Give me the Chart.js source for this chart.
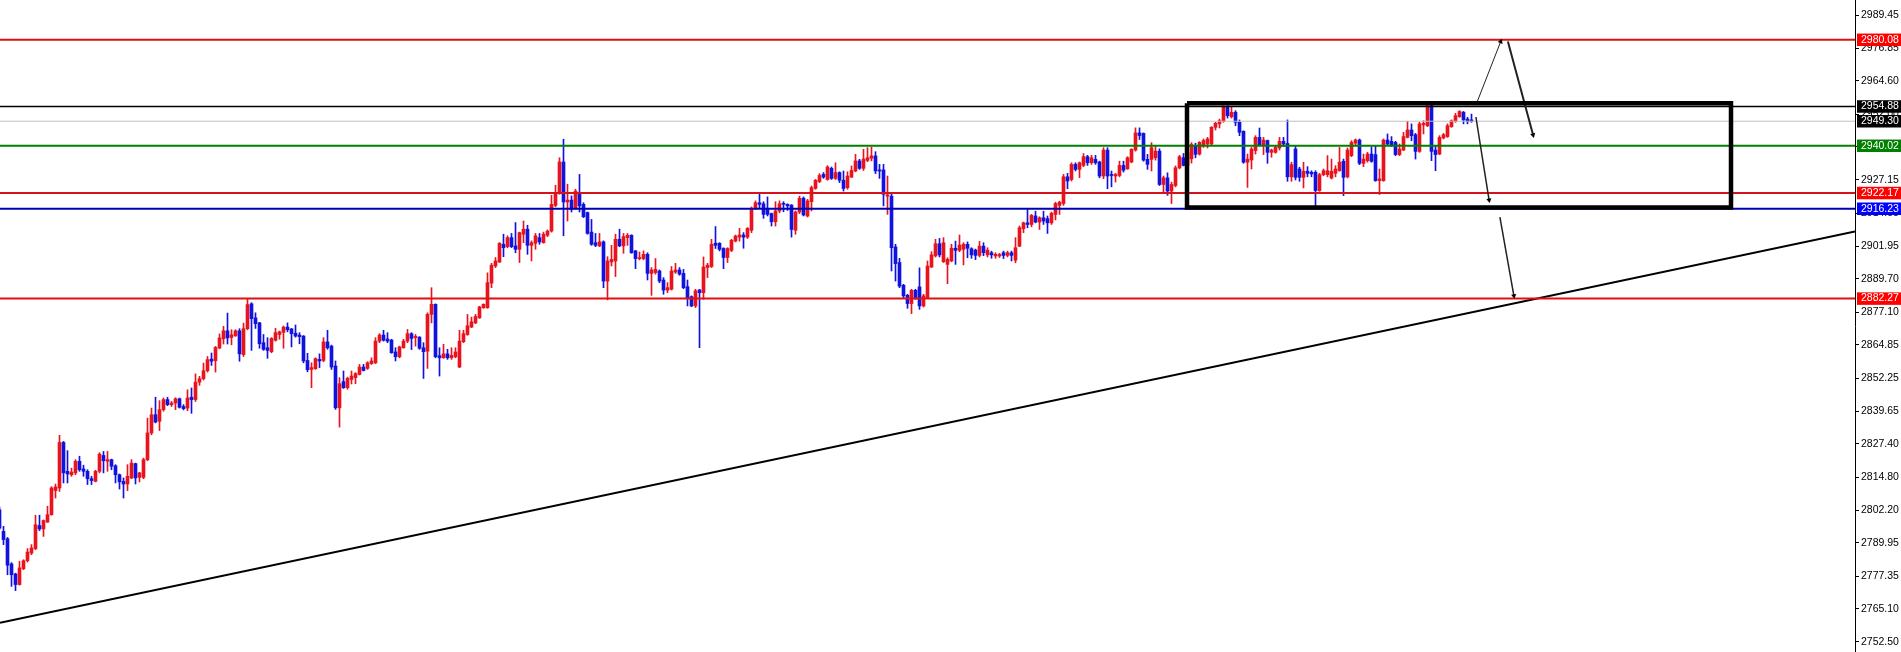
<!DOCTYPE html>
<html>
<head>
<meta charset="utf-8">
<title>XAUUSD</title>
<script src="https://cdn.jsdelivr.net/npm/chart.js@4.4.1/dist/chart.umd.min.js"></script>
<style>
  html, body { margin: 0; padding: 0; background: #fff; }
  #wrap { width: 1901px; height: 652px; }
</style>
</head>
<body>
<div id="wrap"><canvas id="chart"></canvas></div>
<script>
// candles (index = bar number, left to right)
const opens = [
  2802.4, 2794.3, 2791.5, 2782.0, 2778.2, 2774.2, 2780.2, 2783.2, 2786.1, 2787.8,
  2796.5, 2795.2, 2797.8, 2800.6, 2809.7, 2810.7, 2827.9, 2817.0, 2815.7, 2816.4,
  2820.8, 2817.9, 2817.0, 2814.2, 2813.2, 2817.0, 2823.0, 2820.8, 2821.4, 2819.1,
  2815.7, 2813.2, 2812.2, 2814.5, 2819.9, 2814.7, 2814.7, 2821.4, 2831.5, 2838.4,
  2835.9, 2840.3, 2844.1, 2842.2, 2842.8, 2844.4, 2841.5, 2840.9, 2845.0, 2844.1,
  2850.7, 2852.0, 2855.0, 2859.4, 2858.8, 2863.6, 2867.1, 2870.1, 2867.6, 2868.2,
  2870.1, 2861.1, 2870.9, 2880.3, 2875.0, 2873.1, 2865.6, 2863.7, 2862.2, 2866.5,
  2868.7, 2869.5, 2871.5, 2870.8, 2869.2, 2868.5, 2868.1, 2858.9, 2855.5, 2855.8,
  2859.3, 2858.9, 2865.9, 2864.3, 2856.8, 2841.0, 2850.9, 2848.6, 2851.7, 2852.4,
  2853.6, 2856.4, 2855.9, 2857.7, 2858.0, 2866.2, 2868.5, 2867.0, 2866.6, 2862.1,
  2860.3, 2863.7, 2866.2, 2869.0, 2867.5, 2867.7, 2863.7, 2862.4, 2876.3, 2880.1,
  2860.7, 2859.9, 2861.4, 2859.9, 2860.3, 2856.4, 2866.0, 2868.7, 2871.5, 2873.1,
  2875.0, 2878.8, 2878.8, 2888.1, 2894.6, 2896.1, 2902.8, 2901.9, 2905.3, 2902.2,
  2900.9, 2906.6, 2908.5, 2902.4, 2903.2, 2905.3, 2903.4, 2906.2, 2907.8, 2917.5,
  2922.3, 2933.9, 2918.8, 2919.5, 2916.6, 2922.3, 2917.9, 2914.8, 2907.4, 2903.4,
  2902.2, 2903.7, 2888.9, 2896.1, 2896.5, 2904.7, 2902.2, 2905.3, 2906.2, 2900.3,
  2897.4, 2897.4, 2899.0, 2891.8, 2892.1, 2892.7, 2889.3, 2885.5, 2885.8, 2892.3,
  2893.1, 2891.8, 2886.8, 2883.0, 2879.5, 2885.5, 2884.5, 2894.0, 2894.4, 2903.2,
  2903.2, 2901.2, 2897.8, 2900.5, 2904.0, 2905.5, 2906.3, 2905.5, 2908.1, 2916.4,
  2918.5, 2918.1, 2916.4, 2914.4, 2911.3, 2915.4, 2918.1, 2917.9, 2917.6, 2908.1,
  2915.0, 2920.2, 2913.5, 2918.9, 2923.9, 2926.5, 2929.2, 2927.3, 2931.5, 2927.7,
  2929.9, 2927.0, 2924.2, 2928.2, 2930.5, 2934.3, 2931.5, 2934.5, 2935.3, 2936.2,
  2930.9, 2930.9, 2921.0, 2921.0, 2901.8, 2895.9, 2887.3, 2883.5, 2880.4, 2885.4,
  2886.7, 2879.5, 2882.6, 2894.2, 2898.4, 2903.0, 2896.2, 2895.2, 2896.5, 2901.3,
  2900.5, 2900.9, 2902.8, 2901.1, 2900.6, 2898.6, 2902.1, 2898.8, 2899.6, 2898.4,
  2898.4, 2899.6, 2898.6, 2899.6, 2896.8, 2902.1, 2908.7, 2910.9, 2910.3, 2913.5,
  2911.2, 2912.8, 2912.5, 2910.9, 2914.1, 2917.5, 2918.2, 2928.3, 2927.3, 2933.0,
  2931.1, 2932.6, 2935.9, 2933.6, 2934.9, 2933.9, 2928.6, 2938.4, 2929.2, 2928.6,
  2928.8, 2932.6, 2931.3, 2933.9, 2938.4, 2944.9, 2944.7, 2934.9, 2934.9, 2935.5,
  2938.0, 2925.4, 2927.9, 2922.9, 2925.0, 2931.7, 2935.5, 2932.6, 2935.1, 2940.2,
  2936.9, 2940.1, 2940.7, 2940.7, 2947.0, 2948.3, 2949.3, 2954.55, 2951.0, 2952.7,
  2948.9, 2945.5, 2933.8, 2934.65, 2938.2, 2943.2, 2940.45, 2942.0, 2937.55, 2937.55,
  2939.2, 2941.7, 2940.9, 2928.3, 2938.8, 2931.25, 2928.1, 2930.4, 2930.0, 2930.0,
  2923.1, 2929.1, 2929.1, 2927.85, 2929.6, 2930.6, 2934.15, 2928.3, 2936.3, 2941.0,
  2942.2, 2933.4, 2934.4, 2936.9, 2936.7, 2926.85, 2926.85, 2942.2, 2941.7, 2941.3,
  2936.7, 2938.4, 2943.2, 2946.0, 2944.2, 2937.9, 2947.9, 2947.6, 2955.2, 2938.4,
  2936.9, 2943.0, 2943.5, 2947.25, 2949.3, 2951.0, 2952.7, 2950.1, 2949.8
];
const highs = [
  2803.5, 2796.2, 2792.0, 2782.5, 2778.5, 2783.0, 2783.6, 2787.8, 2789.3, 2800.4,
  2800.4, 2798.6, 2803.8, 2811.2, 2812.2, 2830.6, 2828.3, 2824.8, 2818.2, 2821.4,
  2822.7, 2819.3, 2817.6, 2815.1, 2817.4, 2824.0, 2824.5, 2824.5, 2821.6, 2819.5,
  2816.0, 2814.5, 2819.5, 2821.4, 2820.1, 2816.6, 2822.0, 2837.1, 2840.9, 2845.0,
  2843.7, 2844.7, 2845.0, 2843.4, 2844.8, 2844.7, 2842.2, 2847.8, 2848.5, 2853.8,
  2852.9, 2857.9, 2860.4, 2861.7, 2864.2, 2868.9, 2871.8, 2876.8, 2870.5, 2870.5,
  2870.9, 2873.0, 2882.2, 2880.7, 2876.9, 2873.3, 2868.7, 2867.5, 2867.5, 2871.0,
  2870.0, 2871.9, 2873.1, 2871.0, 2872.3, 2869.4, 2868.3, 2861.6, 2858.0, 2859.9,
  2861.4, 2867.5, 2870.3, 2864.7, 2858.7, 2852.4, 2854.9, 2852.6, 2854.9, 2854.3,
  2857.4, 2857.4, 2858.4, 2859.9, 2867.5, 2869.0, 2870.3, 2869.4, 2866.9, 2863.7,
  2864.3, 2866.9, 2870.6, 2869.4, 2868.7, 2867.9, 2865.6, 2876.9, 2886.4, 2880.3,
  2863.7, 2865.0, 2863.1, 2863.7, 2863.7, 2870.3, 2870.3, 2876.3, 2875.3, 2876.3,
  2879.4, 2880.3, 2892.0, 2895.6, 2897.8, 2903.4, 2906.6, 2906.0, 2906.9, 2911.0,
  2907.4, 2911.6, 2910.0, 2904.1, 2906.9, 2906.9, 2907.4, 2908.2, 2921.3, 2925.1,
  2935.5, 2942.5, 2925.5, 2921.1, 2923.6, 2929.2, 2918.5, 2915.0, 2912.2, 2906.9,
  2906.9, 2904.1, 2898.1, 2902.4, 2906.6, 2908.5, 2906.9, 2906.9, 2906.4, 2900.5,
  2899.9, 2900.3, 2899.6, 2894.0, 2897.4, 2893.1, 2890.2, 2888.3, 2894.4, 2895.6,
  2894.0, 2893.3, 2889.3, 2883.3, 2885.8, 2885.8, 2898.0, 2895.6, 2904.7, 2909.5,
  2903.4, 2901.5, 2901.5, 2904.7, 2906.3, 2908.8, 2907.2, 2909.1, 2916.9, 2919.2,
  2921.9, 2918.9, 2920.7, 2914.6, 2918.9, 2919.2, 2918.9, 2918.1, 2917.8, 2915.4,
  2921.0, 2920.7, 2919.8, 2924.8, 2927.3, 2929.5, 2929.9, 2932.5, 2932.0, 2933.6,
  2930.2, 2930.5, 2930.2, 2932.4, 2936.8, 2934.9, 2938.7, 2939.3, 2939.6, 2937.8,
  2933.0, 2933.0, 2928.6, 2921.9, 2902.8, 2897.5, 2887.7, 2883.9, 2885.8, 2885.8,
  2893.9, 2883.9, 2896.5, 2900.0, 2904.7, 2905.0, 2905.3, 2897.7, 2902.8, 2904.0,
  2906.3, 2903.4, 2903.7, 2901.5, 2901.0, 2903.9, 2903.4, 2901.5, 2900.2, 2899.6,
  2899.4, 2900.2, 2900.2, 2900.2, 2905.3, 2909.7, 2911.2, 2915.9, 2914.1, 2915.3,
  2913.2, 2915.3, 2913.5, 2915.0, 2918.7, 2919.1, 2929.2, 2929.6, 2933.6, 2933.6,
  2933.9, 2937.1, 2936.4, 2936.4, 2936.4, 2934.2, 2939.3, 2939.3, 2930.5, 2929.6,
  2934.2, 2934.2, 2935.9, 2938.9, 2946.8, 2946.8, 2944.9, 2936.8, 2941.2, 2939.9,
  2938.9, 2928.6, 2929.8, 2926.3, 2932.4, 2936.4, 2937.1, 2938.5, 2941.2, 2941.0,
  2941.6, 2942.6, 2943.2, 2947.25, 2948.9, 2950.1, 2955.2, 2955.2, 2954.55, 2953.3,
  2949.8, 2945.7, 2936.9, 2939.4, 2943.85, 2946.75, 2943.2, 2942.2, 2938.8, 2940.1,
  2943.2, 2943.2, 2949.8, 2933.8, 2940.1, 2931.9, 2933.8, 2932.15, 2930.6, 2930.6,
  2929.6, 2931.25, 2936.3, 2935.0, 2932.5, 2939.4, 2935.0, 2939.2, 2941.95, 2942.6,
  2942.6, 2936.9, 2937.55, 2939.7, 2940.1, 2931.25, 2942.6, 2944.5, 2943.5, 2941.7,
  2940.7, 2945.1, 2949.3, 2948.3, 2944.7, 2948.9, 2949.5, 2956.0, 2956.0, 2940.1,
  2943.85, 2944.7, 2948.3, 2949.8, 2952.3, 2953.3, 2953.0, 2950.8, 2952.0
];
const lows = [
  2795.0, 2789.3, 2777.9, 2773.5, 2771.9, 2774.0, 2779.8, 2782.7, 2785.5, 2787.4,
  2794.6, 2792.4, 2797.7, 2800.4, 2806.9, 2809.4, 2812.6, 2812.6, 2815.1, 2815.7,
  2817.0, 2815.1, 2812.0, 2812.0, 2813.0, 2816.4, 2816.4, 2817.0, 2817.6, 2812.6,
  2810.3, 2806.9, 2809.7, 2814.2, 2812.2, 2813.0, 2814.2, 2821.0, 2830.8, 2835.3,
  2832.4, 2839.7, 2841.8, 2841.5, 2840.3, 2840.9, 2840.2, 2839.9, 2838.9, 2843.4,
  2849.5, 2851.5, 2854.5, 2857.0, 2854.5, 2863.3, 2865.1, 2865.1, 2864.8, 2868.0,
  2858.6, 2860.4, 2870.5, 2862.7, 2871.0, 2863.5, 2862.7, 2859.7, 2861.8, 2866.2,
  2866.9, 2863.5, 2869.7, 2864.0, 2867.7, 2865.2, 2858.0, 2854.6, 2848.6, 2855.5,
  2856.2, 2858.4, 2863.1, 2855.5, 2840.4, 2833.7, 2848.3, 2848.0, 2850.0, 2850.1,
  2853.4, 2854.9, 2855.5, 2857.4, 2857.7, 2865.6, 2866.2, 2865.6, 2861.6, 2858.7,
  2859.9, 2863.5, 2865.6, 2863.0, 2864.3, 2863.1, 2852.1, 2855.9, 2873.1, 2859.9,
  2853.0, 2859.7, 2859.3, 2859.3, 2859.9, 2856.2, 2865.6, 2868.4, 2871.3, 2872.8,
  2874.8, 2878.6, 2878.6, 2886.4, 2894.0, 2895.9, 2898.1, 2901.5, 2901.5, 2899.6,
  2895.9, 2903.4, 2899.0, 2896.5, 2900.9, 2902.8, 2903.2, 2905.7, 2907.4, 2917.0,
  2921.7, 2906.0, 2911.6, 2915.0, 2916.0, 2915.0, 2912.9, 2906.6, 2902.4, 2901.9,
  2901.9, 2886.4, 2881.8, 2894.6, 2890.6, 2901.9, 2899.4, 2902.4, 2899.4, 2893.6,
  2896.9, 2896.9, 2889.3, 2883.5, 2891.5, 2888.3, 2883.9, 2884.5, 2885.5, 2891.8,
  2891.1, 2886.0, 2879.5, 2879.2, 2878.9, 2863.7, 2882.0, 2890.2, 2894.0, 2901.2,
  2900.3, 2893.6, 2895.9, 2900.0, 2903.7, 2904.0, 2901.3, 2905.0, 2907.2, 2916.0,
  2916.6, 2912.6, 2913.5, 2909.7, 2909.7, 2914.7, 2915.1, 2915.6, 2905.5, 2906.6,
  2914.4, 2913.5, 2913.1, 2915.4, 2923.6, 2926.1, 2927.7, 2927.0, 2927.3, 2927.3,
  2926.1, 2922.9, 2923.6, 2928.0, 2930.2, 2931.1, 2930.7, 2934.0, 2934.3, 2929.5,
  2927.7, 2917.3, 2914.1, 2892.7, 2888.9, 2886.4, 2882.6, 2878.6, 2876.6, 2882.0,
  2878.2, 2879.1, 2882.4, 2894.0, 2898.0, 2898.0, 2895.9, 2887.9, 2896.2, 2895.2,
  2900.0, 2895.0, 2897.7, 2897.5, 2897.0, 2898.0, 2898.5, 2898.0, 2897.5, 2897.5,
  2897.8, 2897.4, 2898.0, 2896.5, 2895.8, 2901.9, 2907.2, 2909.05, 2909.4, 2910.9,
  2908.4, 2910.3, 2906.9, 2910.3, 2912.0, 2914.1, 2917.5, 2923.8, 2926.7, 2930.5,
  2928.0, 2932.1, 2932.6, 2933.0, 2933.0, 2927.9, 2927.6, 2923.8, 2924.5, 2926.3,
  2928.3, 2930.1, 2931.1, 2933.6, 2938.0, 2942.4, 2934.2, 2931.1, 2930.5, 2934.6,
  2925.0, 2922.0, 2921.3, 2918.2, 2924.5, 2931.3, 2932.4, 2932.0, 2933.5, 2935.5,
  2936.5, 2939.4, 2939.2, 2940.1, 2946.0, 2946.75, 2948.9, 2950.5, 2950.5, 2947.6,
  2943.85, 2933.4, 2924.3, 2931.25, 2936.9, 2940.1, 2936.7, 2933.4, 2935.7, 2937.2,
  2938.4, 2939.7, 2926.6, 2926.6, 2927.1, 2926.6, 2924.1, 2928.3, 2928.3, 2916.8,
  2922.8, 2928.7, 2928.3, 2927.5, 2928.3, 2930.4, 2921.2, 2927.85, 2935.9, 2940.45,
  2932.9, 2932.15, 2933.8, 2933.8, 2926.6, 2921.6, 2926.6, 2940.1, 2939.7, 2936.3,
  2936.3, 2938.2, 2943.0, 2941.95, 2935.0, 2937.55, 2944.5, 2947.25, 2934.4, 2930.6,
  2936.7, 2942.6, 2943.2, 2947.0, 2948.9, 2950.8, 2948.3, 2948.3, 2948.9
];
const closes = [
  2795.5, 2791.2, 2781.5, 2777.9, 2774.2, 2780.5, 2783.2, 2786.5, 2788.0, 2796.8,
  2795.2, 2798.4, 2800.6, 2810.7, 2811.1, 2827.9, 2816.4, 2816.0, 2816.7, 2820.8,
  2817.6, 2817.0, 2814.2, 2813.5, 2817.0, 2823.5, 2821.0, 2821.4, 2818.9, 2815.7,
  2813.0, 2812.2, 2815.1, 2820.1, 2814.5, 2816.4, 2821.4, 2831.5, 2838.4, 2835.6,
  2840.3, 2844.1, 2842.2, 2842.8, 2844.4, 2841.2, 2840.7, 2844.7, 2844.1, 2850.7,
  2852.0, 2855.0, 2859.2, 2858.6, 2863.8, 2867.4, 2870.1, 2867.4, 2868.6, 2870.1,
  2861.4, 2870.9, 2880.0, 2874.7, 2872.8, 2865.2, 2863.1, 2862.7, 2867.2, 2869.4,
  2869.7, 2871.5, 2870.5, 2869.0, 2868.1, 2867.9, 2858.7, 2855.4, 2856.2, 2859.6,
  2858.7, 2865.9, 2863.7, 2856.4, 2841.0, 2850.1, 2848.6, 2852.1, 2853.0, 2853.9,
  2856.4, 2855.1, 2858.0, 2858.7, 2866.2, 2868.5, 2866.5, 2866.2, 2861.8, 2860.3,
  2864.0, 2866.2, 2869.0, 2867.2, 2868.0, 2863.5, 2862.2, 2876.3, 2880.1, 2860.3,
  2859.9, 2861.4, 2859.9, 2860.8, 2862.1, 2866.2, 2869.0, 2872.0, 2873.5, 2875.5,
  2879.1, 2880.1, 2888.3, 2894.9, 2896.5, 2903.2, 2901.5, 2905.3, 2901.9, 2900.9,
  2907.2, 2908.5, 2902.4, 2903.4, 2906.0, 2903.7, 2906.6, 2907.8, 2917.9, 2922.3,
  2933.9, 2918.8, 2919.5, 2916.0, 2922.9, 2917.3, 2913.2, 2906.9, 2902.8, 2902.4,
  2903.7, 2888.9, 2896.5, 2897.1, 2904.7, 2902.2, 2905.7, 2906.2, 2899.6, 2897.4,
  2897.4, 2899.0, 2891.8, 2893.1, 2893.3, 2888.9, 2885.5, 2886.4, 2892.7, 2893.1,
  2891.5, 2886.4, 2882.6, 2879.5, 2885.2, 2884.5, 2894.2, 2894.9, 2902.8, 2902.4,
  2900.9, 2897.8, 2901.2, 2904.3, 2905.9, 2906.3, 2905.5, 2908.8, 2916.4, 2918.5,
  2917.9, 2914.1, 2914.1, 2911.3, 2915.4, 2918.1, 2917.9, 2917.3, 2908.4, 2915.0,
  2920.2, 2913.9, 2919.2, 2924.2, 2927.0, 2928.8, 2928.2, 2932.0, 2927.7, 2929.9,
  2927.0, 2923.9, 2928.6, 2930.7, 2934.3, 2931.5, 2935.0, 2935.5, 2936.2, 2930.5,
  2930.5, 2921.7, 2921.5, 2901.5, 2895.5, 2887.0, 2883.3, 2880.4, 2885.4, 2882.6,
  2879.5, 2883.3, 2894.6, 2898.8, 2903.0, 2898.8, 2903.4, 2897.1, 2901.3, 2900.5,
  2902.5, 2902.8, 2901.3, 2898.8, 2898.6, 2902.1, 2899.6, 2900.6, 2898.8, 2899.0,
  2898.9, 2898.6, 2899.6, 2898.6, 2901.5, 2909.05, 2910.9, 2910.3, 2913.7, 2911.2,
  2912.8, 2911.6, 2910.9, 2914.5, 2918.2, 2918.7, 2928.3, 2926.7, 2933.0, 2931.1,
  2933.6, 2935.9, 2933.6, 2935.5, 2933.6, 2928.6, 2938.4, 2928.6, 2928.8, 2929.2,
  2932.6, 2930.8, 2935.5, 2938.7, 2944.9, 2943.9, 2934.6, 2933.0, 2939.3, 2938.0,
  2925.4, 2927.9, 2922.9, 2925.4, 2931.7, 2935.9, 2932.6, 2937.5, 2940.5, 2936.8,
  2941.3, 2942.0, 2942.6, 2947.0, 2948.5, 2949.5, 2954.55, 2951.4, 2952.7, 2948.9,
  2945.1, 2933.8, 2935.0, 2938.8, 2943.2, 2940.45, 2942.2, 2937.55, 2938.4, 2939.4,
  2941.7, 2940.7, 2928.3, 2932.9, 2928.1, 2928.1, 2930.4, 2929.6, 2929.4, 2923.1,
  2929.1, 2930.6, 2930.6, 2930.4, 2931.25, 2933.8, 2928.1, 2938.4, 2941.3, 2942.2,
  2933.4, 2935.0, 2936.9, 2934.15, 2926.85, 2927.5, 2942.2, 2940.7, 2940.45, 2936.7,
  2938.8, 2943.5, 2946.0, 2943.85, 2937.9, 2948.3, 2948.5, 2955.2, 2937.9, 2936.7,
  2943.2, 2944.2, 2947.6, 2949.5, 2951.4, 2953.0, 2949.8, 2949.25, 2949.3
];

// price axis labels
const yTickValues = [2989.45, 2976.85, 2964.60, 2952.00, 2939.75, 2927.15, 2914.55, 2901.95,
  2889.70, 2877.10, 2864.85, 2852.25, 2839.65, 2827.40, 2814.80, 2802.20, 2789.95, 2777.35,
  2765.10, 2752.50];

// horizontal levels (the two black ones: box top line and current bid)
const levelValues = [2980.08, 2954.88, 2949.30, 2940.02, 2922.17, 2916.23, 2882.27];

// drawn objects, in bar index / price units
const trendX = [0.125, 463.875];
const trendY = [2759.8, 2907.6];
const boxX = [296.875, 432.875, 432.875, 296.875, 296.875];
const boxY = [2956.1, 2956.1, 2916.7, 2916.7, 2956.1];
const arrowX = [[369.1, 375.3], [377.1, 383.4], [369.1, 372.4], [375.1, 378.6]];
const arrowY = [[2955.4, 2979.4], [2979.4, 2944.1], [2950.9, 2919.5], [2913.1, 2883.3]];

// styles
const RED = "#e8131c";
const BLUE = "#1212e0";
const levelLineColors = ["#e01010", "#000000", "#c0c0c0", "#008000", "#d4141c", "#0000b0", "#e01010"];
const levelLineWidths = [2, 1.5, 1, 2, 2, 2, 2];
const levelBoxColors = ["#ff0000", "#000000", "#000000", "#008000", "#ff0000", "#0000ff", "#ff0000"];
const arrowWidths = [1, 2, 1.5, 1.5];

const X_MIN = 0.125;
const X_MAX = 463.875;

const idx = opens.map((_, i) => i);
const candleColors = idx.map((i) => (closes[i] >= opens[i] ? RED : BLUE));

function arrowRotation(ctx) {
  const sx = ctx.chart.scales.x;
  const sy = ctx.chart.scales.y;
  const d = ctx.dataset.data;
  const dx = sx.getPixelForValue(d[1].x) - sx.getPixelForValue(d[0].x);
  const dy = sy.getPixelForValue(d[1].y) - sy.getPixelForValue(d[0].y);
  return (Math.atan2(dx, -dy) * 180) / Math.PI;
}

function lineSet(data, color, width, order) {
  return {
    type: "line",
    data: data,
    borderColor: color,
    borderWidth: width,
    pointRadius: 0,
    fill: false,
    tension: 0,
    borderJoinStyle: "miter",
    order: order,
  };
}

const datasets = [];

// levels
levelValues.forEach((v, k) => {
  datasets.push(lineSet([{ x: X_MIN, y: v }, { x: X_MAX, y: v }], levelLineColors[k], levelLineWidths[k], 2));
});

// trend line
datasets.push(lineSet(trendX.map((x, k) => ({ x: x, y: trendY[k] })), "#000", 2, 2));

// range box
datasets.push(lineSet(boxX.map((x, k) => ({ x: x, y: boxY[k] })), "#000", 4.5, 1));

// arrows
arrowX.forEach((xs, k) => {
  const ds = lineSet(xs.map((x, j) => ({ x: x, y: arrowY[k][j] })), "#222", arrowWidths[k], 1);
  ds.pointRadius = [0, 3];
  ds.pointStyle = "triangle";
  ds.pointBackgroundColor = "#000";
  ds.pointBorderWidth = 0;
  ds.pointRotation = arrowRotation;
  datasets.push(ds);
});

// candles
datasets.push({
  type: "bar",
  data: idx.map((i) => ({ x: i, y: [Math.min(opens[i], closes[i]), Math.max(opens[i], closes[i])] })),
  backgroundColor: candleColors,
  barThickness: 3,
  minBarLength: 1,
  grouped: false,
  borderWidth: 0,
  order: 5,
});
datasets.push({
  type: "bar",
  data: idx.map((i) => ({ x: i, y: [lows[i], highs[i]] })),
  backgroundColor: candleColors,
  barThickness: 1,
  grouped: false,
  borderWidth: 0,
  order: 6,
});

const isLevel = (ctx) => ctx.index >= yTickValues.length;
const levelIndex = (ctx) => ctx.index - yTickValues.length;

new Chart(document.getElementById("chart").getContext("2d"), {
  type: "bar",
  data: { datasets: datasets },
  options: {
    responsive: true,
    maintainAspectRatio: false,
    animation: false,
    layout: { padding: 0, autoPadding: false },
    plugins: { legend: { display: false }, tooltip: { enabled: false } },
    scales: {
      x: {
        type: "linear",
        display: false,
        min: X_MIN,
        max: X_MAX,
        offset: false,
        grid: { display: false },
      },
      y: {
        type: "linear",
        position: "right",
        min: 2748.71,
        max: 2995.12,
        bounds: "data",
        beginAtZero: false,
        afterBuildTicks: (scale) => {
          scale.ticks = yTickValues.concat(levelValues).map((v) => ({ value: v }));
        },
        afterFit: (scale) => {
          // full height plot, fixed axis strip on the right
          scale.width = 46;
          scale.paddingTop = 0;
          scale.paddingBottom = 0;
        },
        border: { display: true, color: "#000", width: 1 },
        grid: {
          drawOnChartArea: false,
          drawTicks: true,
          tickLength: 4,
          color: (ctx) => (isLevel(ctx) ? "rgba(0,0,0,0)" : "#000"),
        },
        ticks: {
          autoSkip: false,
          padding: 2,
          font: { family: "Liberation Sans", size: 10.5, lineHeight: 1 },
          color: (ctx) => (isLevel(ctx) ? "#fff" : "#000"),
          showLabelBackdrop: (ctx) => isLevel(ctx),
          backdropColor: (ctx) => (isLevel(ctx) ? levelBoxColors[levelIndex(ctx)] : "rgba(0,0,0,0)"),
          backdropPadding: { top: 1, bottom: 1, left: 4, right: 3 },
          callback: (value) => Number(value).toFixed(2),
        },
      },
    },
  },
});
</script>
</body>
</html>
